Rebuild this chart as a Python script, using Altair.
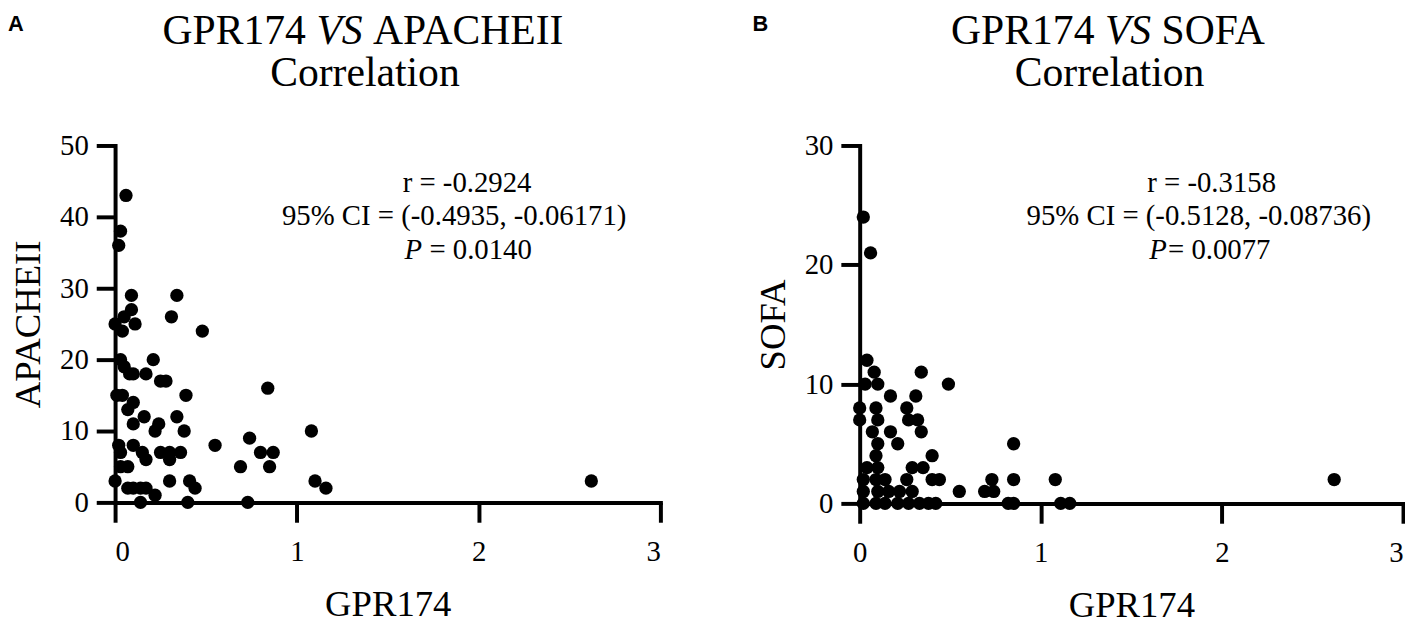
import altair as alt
import pandas as pd

# ---------------- data ----------------
gpr174_a = [0.06, 0.03, 0.02, 0.09, 0.34, 0.09, 0.05, 0.11, 0.00, 0.04,
            0.31, 0.48, 0.03, 0.21, 0.05, 0.08, 0.10, 0.17, 0.25, 0.28,
            0.84, 0.01, 0.04, 0.39, 0.10, 0.07, 0.16, 0.34, 0.10, 0.24,
            0.22, 0.38, 1.08, 0.02, 0.10, 0.03, 0.15, 0.17, 0.25, 0.30,
            0.36, 0.30, 0.55, 0.74, 0.80, 0.87, 0.85, 0.69, 0.03, 0.07,
            0.00, 0.30, 0.41, 0.44, 0.07, 0.10, 0.14, 0.17, 0.22, 0.14,
            0.40, 0.73, 1.10, 1.16, 2.62]
apache_ii = [43, 38, 36, 29, 29, 27, 26, 25, 25, 24,
             26, 24, 20, 20, 19, 18, 18, 18, 17, 17,
             16, 15, 15, 15, 14, 13, 12, 12, 11, 11,
             10, 10, 10, 8, 8, 7, 7, 6, 7, 7,
             7, 6, 8, 9, 7, 7, 5, 5, 5, 5,
             3, 3, 3, 2, 2, 2, 2, 2, 1, 0,
             0, 0, 3, 2, 3]

gpr174_b = [0.02, 0.06, 0.04, 0.08, 0.34, 0.03, 0.10, 0.49, 0.17, 0.31,
            0.00, 0.09, 0.26, 0.00, 0.10, 0.27, 0.32, 0.07, 0.17, 0.34,
            0.10, 0.21, 0.85, 0.09, 0.40, 0.04, 0.10, 0.29, 0.35, 0.02,
            0.09, 0.14, 0.26, 0.40, 0.44, 0.73, 0.85, 1.08, 0.02, 0.10,
            0.16, 0.22, 0.29, 0.55, 0.69, 0.74, 0.02, 0.09, 0.14, 0.21,
            0.27, 0.33, 0.38, 0.42, 0.82, 0.85, 1.11, 1.16, 2.62]
sofa = [24, 21, 12, 11, 11, 10, 10, 10, 9, 9,
        8, 8, 8, 7, 7, 7, 7, 6, 6, 6,
        5, 5, 5, 4, 4, 3, 3, 3, 3, 2,
        2, 2, 2, 2, 2, 2, 2, 2, 1, 1,
        1, 1, 1, 1, 1, 1, 0, 0, 0, 0,
        0, 0, 0, 0, 0, 0, 0, 0, 2]

x_ticks = [0, 1, 2, 3]
apache_ticks = [0, 10, 20, 30, 40, 50]
sofa_ticks = [0, 10, 20, 30]

stats_a = ["r = -0.2924", "95% CI = (-0.4935, -0.06171)", "= 0.0140"]
stats_b = ["r = -0.3158", "95% CI = (-0.5128, -0.08736)", "= 0.0077"]

SERIF = "Liberation Serif"
SANS = "Liberation Sans"


def txt(s, x, y, size, align="left", style="normal", weight="normal", font=SERIF):
    return alt.Chart(pd.DataFrame({"t": [s]})).mark_text(
        align=align, baseline="alphabetic", fontSize=size, font=font,
        fontStyle=style, fontWeight=weight, color="black"
    ).encode(x=alt.value(x), y=alt.value(y), text="t:N")


def panel(xv, yv, yname, ymax, yticks, width, height, letter,
          title_right, stats, p_gap, last_right):
    df = pd.DataFrame({"GPR174": xv, yname: yv})
    xaxis_kw = dict(values=x_ticks, title="GPR174", tickSize=20, labelPadding=16,
                    titlePadding=20, format="d")
    if last_right:
        xaxis_kw["labelAlign"] = {"condition": {"test": "datum.value == 3", "value": "right"},
                                  "value": "center"}
    pts = alt.Chart(df).mark_circle(size=180, color="black", opacity=1).encode(
        x=alt.X("GPR174:Q", scale=alt.Scale(domain=[0, 3], nice=False),
                axis=alt.Axis(**xaxis_kw)),
        y=alt.Y(f"{yname}:Q", scale=alt.Scale(domain=[0, ymax], nice=False),
                axis=alt.Axis(values=yticks, title=yname, tickSize=19, labelPadding=8,
                              titlePadding=12, format="d")),
    )
    tfs = 42
    centre = 252
    total = (3.695 + 1.361 + {"APACHEII": 4.666, "SOFA": 2.556}[title_right]) * tfs
    start = centre - total / 2
    vs_x = start + 3.695 * tfs
    right_x = vs_x + 1.361 * tfs
    layers = [
        pts,
        txt("GPR174", start, -102, tfs),
        txt("VS", vs_x, -102, tfs, style="italic"),
        txt(title_right, right_x, -102, tfs),
        txt("Correlation", centre, -60, tfs, align="center"),
        txt(letter, -108, -115, 22, weight="bold", font=SANS),
        txt(stats[0], 355, 47, 29, align="center"),
        txt(stats[1], 342, 80, 29, align="center"),
        txt("P", 292, 114, 29, style="italic"),
        txt(stats[2], 292 + p_gap, 114, 29),
    ]
    return alt.layer(*layers).properties(width=width, height=height)


pa = panel(gpr174_a, apache_ii, "APACHEII", 50, apache_ticks, 550, 360, "A",
           "APACHEII", stats_a, 25, False)
pb = panel(gpr174_b, sofa, "SOFA", 30, sofa_ticks, 548, 361, "B",
           "SOFA", stats_b, 19, True)

chart = alt.hconcat(pa, pb, spacing=91).properties(
    padding={"left": 0, "top": 0, "right": 0, "bottom": 0}
).configure_view(stroke=None).configure_axis(
    grid=False, domainColor="black", domainWidth=4, tickColor="black", tickWidth=4,
    labelFont=SERIF, labelFontSize=29, labelColor="black",
    titleFont=SERIF, titleFontSize=37, titleFontWeight="normal", titleColor="black",
    domainCap="square",
).configure_axisX(labelAngle=0)

chart.save("out.html", embed_options={"renderer": "svg", "actions": False})
